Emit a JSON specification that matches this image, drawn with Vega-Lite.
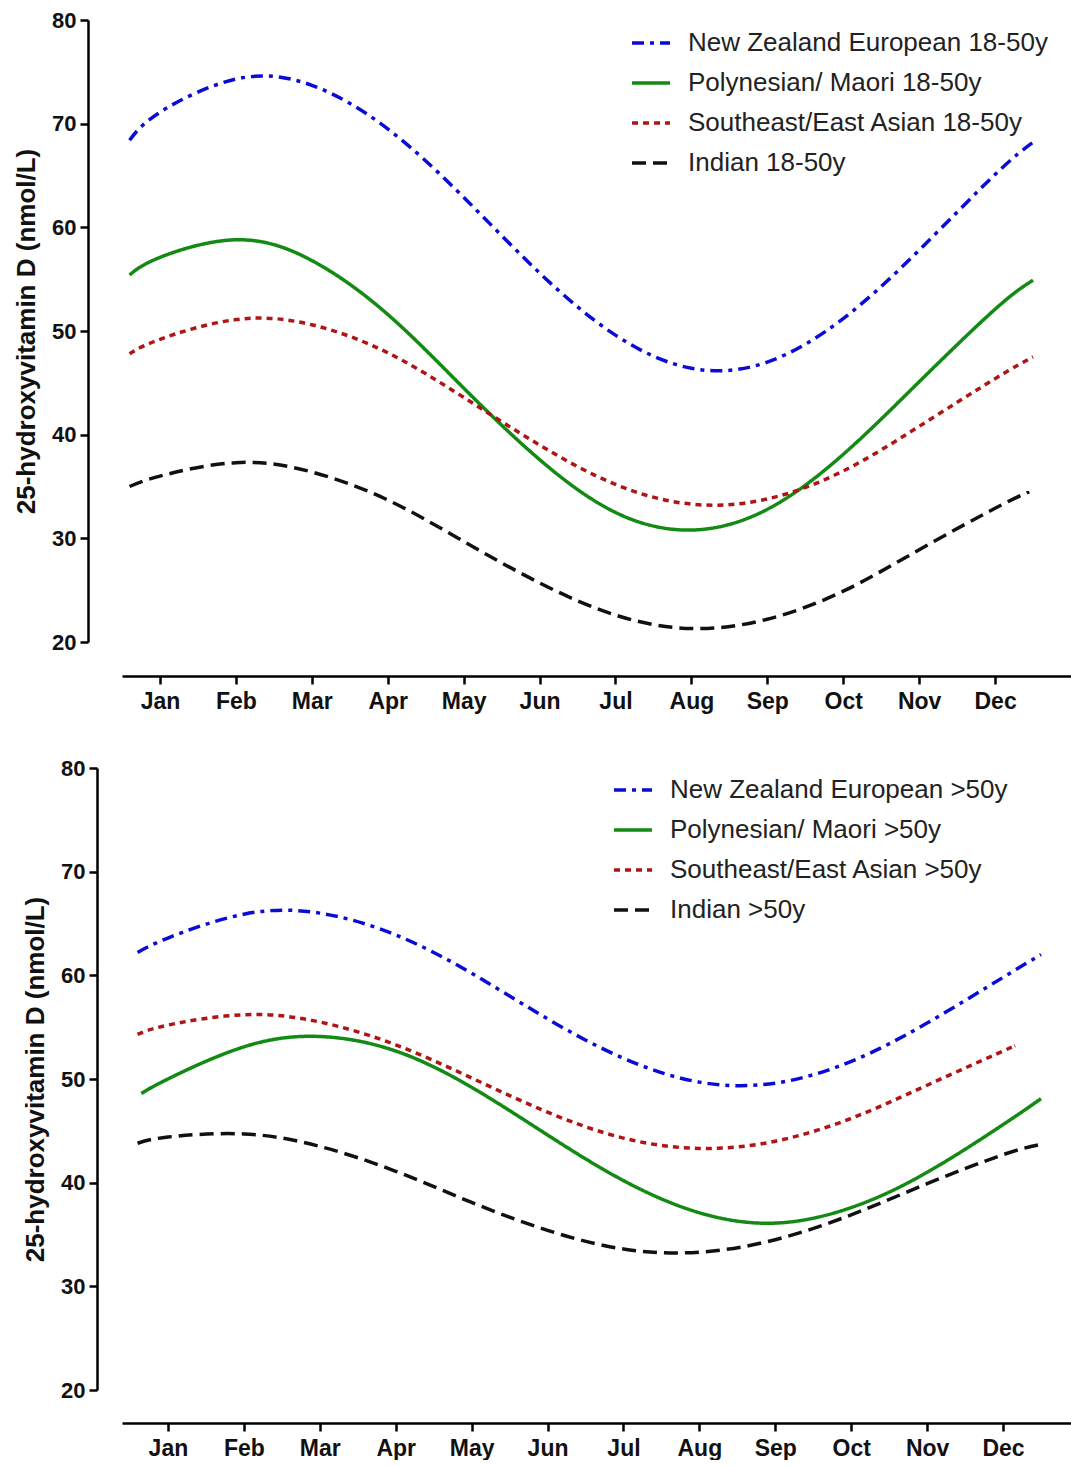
{
  "$schema": "https://vega.github.io/schema/vega-lite/v6.json",
  "padding": {"left": 13, "top": 9, "right": 0, "bottom": 0},
  "spacing": 44,
  "config": {
    "view": {"stroke": null},
    "axis": {"domainColor": "#000", "domainWidth": 2.5, "tickColor": "#000", "tickWidth": 2.5, "tickSize": 8, "grid": false,
      "labelFont": "Liberation Sans", "labelFontWeight": "bold", "labelFontSize": 22, "labelColor": "#111",
      "titleFont": "Liberation Sans", "titleFontWeight": "bold", "titleFontSize": 26, "titleColor": "#111"},
    "axisX": {"labelPadding": 6, "labelFontSize": 23},
    "axisY": {"labelPadding": 4, "titlePadding": 12},
    "legend": {"labelFont": "Liberation Sans", "labelFontSize": 26, "labelColor": "#222", "labelLimit": 600, "symbolType": "stroke", "symbolStrokeWidth": 3.5, "symbolSize": 1444, "labelOffset": 16, "rowPadding": 6}
  },
  "datasets": {
    "top": [
      {"g": "New Zealand European 18-50y", "m": 0.6, "v": 68.4}, {"g": "New Zealand European 18-50y", "m": 1, "v": 71.1}, {"g": "New Zealand European 18-50y", "m": 2, "v": 74.3}, {"g": "New Zealand European 18-50y", "m": 3, "v": 73.7}, {"g": "New Zealand European 18-50y", "m": 4, "v": 69.5}, {"g": "New Zealand European 18-50y", "m": 5, "v": 62.9}, {"g": "New Zealand European 18-50y", "m": 6, "v": 55.6}, {"g": "New Zealand European 18-50y", "m": 7, "v": 49.6}, {"g": "New Zealand European 18-50y", "m": 8, "v": 46.4}, {"g": "New Zealand European 18-50y", "m": 9, "v": 47.0}, {"g": "New Zealand European 18-50y", "m": 10, "v": 51.2}, {"g": "New Zealand European 18-50y", "m": 11, "v": 57.8}, {"g": "New Zealand European 18-50y", "m": 12, "v": 65.1}, {"g": "New Zealand European 18-50y", "m": 12.5, "v": 68.2},
      {"g": "Polynesian/ Maori 18-50y", "m": 0.6, "v": 55.4}, {"g": "Polynesian/ Maori 18-50y", "m": 1, "v": 57.1}, {"g": "Polynesian/ Maori 18-50y", "m": 2, "v": 58.8}, {"g": "Polynesian/ Maori 18-50y", "m": 3, "v": 56.8}, {"g": "Polynesian/ Maori 18-50y", "m": 4, "v": 51.6}, {"g": "Polynesian/ Maori 18-50y", "m": 5, "v": 44.5}, {"g": "Polynesian/ Maori 18-50y", "m": 6, "v": 37.6}, {"g": "Polynesian/ Maori 18-50y", "m": 7, "v": 32.5}, {"g": "Polynesian/ Maori 18-50y", "m": 8, "v": 30.8}, {"g": "Polynesian/ Maori 18-50y", "m": 9, "v": 32.8}, {"g": "Polynesian/ Maori 18-50y", "m": 10, "v": 38.1}, {"g": "Polynesian/ Maori 18-50y", "m": 11, "v": 45.1}, {"g": "Polynesian/ Maori 18-50y", "m": 12, "v": 52.1}, {"g": "Polynesian/ Maori 18-50y", "m": 12.5, "v": 54.9},
      {"g": "Southeast/East Asian 18-50y", "m": 0.6, "v": 47.8}, {"g": "Southeast/East Asian 18-50y", "m": 1, "v": 49.2}, {"g": "Southeast/East Asian 18-50y", "m": 2, "v": 51.1}, {"g": "Southeast/East Asian 18-50y", "m": 3, "v": 50.6}, {"g": "Southeast/East Asian 18-50y", "m": 4, "v": 47.9}, {"g": "Southeast/East Asian 18-50y", "m": 5, "v": 43.6}, {"g": "Southeast/East Asian 18-50y", "m": 6, "v": 39.0}, {"g": "Southeast/East Asian 18-50y", "m": 7, "v": 35.2}, {"g": "Southeast/East Asian 18-50y", "m": 8, "v": 33.3}, {"g": "Southeast/East Asian 18-50y", "m": 9, "v": 33.8}, {"g": "Southeast/East Asian 18-50y", "m": 10, "v": 36.5}, {"g": "Southeast/East Asian 18-50y", "m": 11, "v": 40.8}, {"g": "Southeast/East Asian 18-50y", "m": 12, "v": 45.4}, {"g": "Southeast/East Asian 18-50y", "m": 12.5, "v": 47.5},
      {"g": "Indian 18-50y", "m": 0.6, "v": 35.0}, {"g": "Indian 18-50y", "m": 1, "v": 36.0}, {"g": "Indian 18-50y", "m": 2, "v": 37.3}, {"g": "Indian 18-50y", "m": 3, "v": 36.4}, {"g": "Indian 18-50y", "m": 4, "v": 33.7}, {"g": "Indian 18-50y", "m": 5, "v": 29.7}, {"g": "Indian 18-50y", "m": 6, "v": 25.7}, {"g": "Indian 18-50y", "m": 7, "v": 22.6}, {"g": "Indian 18-50y", "m": 8, "v": 21.3}, {"g": "Indian 18-50y", "m": 9, "v": 22.2}, {"g": "Indian 18-50y", "m": 10, "v": 24.9}, {"g": "Indian 18-50y", "m": 11, "v": 28.9}, {"g": "Indian 18-50y", "m": 12, "v": 32.9}, {"g": "Indian 18-50y", "m": 12.45, "v": 34.5}
    ],
    "bottom": [
      {"g": "New Zealand European >50y", "m": 0.6, "v": 62.2}, {"g": "New Zealand European >50y", "m": 1, "v": 63.6}, {"g": "New Zealand European >50y", "m": 2, "v": 65.9}, {"g": "New Zealand European >50y", "m": 3, "v": 66.0}, {"g": "New Zealand European >50y", "m": 4, "v": 63.9}, {"g": "New Zealand European >50y", "m": 5, "v": 60.2}, {"g": "New Zealand European >50y", "m": 6, "v": 55.8}, {"g": "New Zealand European >50y", "m": 7, "v": 52.0}, {"g": "New Zealand European >50y", "m": 8, "v": 49.7}, {"g": "New Zealand European >50y", "m": 9, "v": 49.6}, {"g": "New Zealand European >50y", "m": 10, "v": 51.7}, {"g": "New Zealand European >50y", "m": 11, "v": 55.4}, {"g": "New Zealand European >50y", "m": 12, "v": 59.8}, {"g": "New Zealand European >50y", "m": 12.5, "v": 62.0},
      {"g": "Polynesian/ Maori >50y", "m": 0.65, "v": 48.6}, {"g": "Polynesian/ Maori >50y", "m": 1, "v": 50.0}, {"g": "Polynesian/ Maori >50y", "m": 2, "v": 53.1}, {"g": "Polynesian/ Maori >50y", "m": 3, "v": 54.1}, {"g": "Polynesian/ Maori >50y", "m": 4, "v": 52.7}, {"g": "Polynesian/ Maori >50y", "m": 5, "v": 49.2}, {"g": "Polynesian/ Maori >50y", "m": 6, "v": 44.6}, {"g": "Polynesian/ Maori >50y", "m": 7, "v": 40.2}, {"g": "Polynesian/ Maori >50y", "m": 8, "v": 37.1}, {"g": "Polynesian/ Maori >50y", "m": 9, "v": 36.1}, {"g": "Polynesian/ Maori >50y", "m": 10, "v": 37.6}, {"g": "Polynesian/ Maori >50y", "m": 11, "v": 41.0}, {"g": "Polynesian/ Maori >50y", "m": 12, "v": 45.6}, {"g": "Polynesian/ Maori >50y", "m": 12.5, "v": 48.1},
      {"g": "Southeast/East Asian >50y", "m": 0.6, "v": 54.3}, {"g": "Southeast/East Asian >50y", "m": 1, "v": 55.2}, {"g": "Southeast/East Asian >50y", "m": 2, "v": 56.2}, {"g": "Southeast/East Asian >50y", "m": 3, "v": 55.5}, {"g": "Southeast/East Asian >50y", "m": 4, "v": 53.3}, {"g": "Southeast/East Asian >50y", "m": 5, "v": 50.1}, {"g": "Southeast/East Asian >50y", "m": 6, "v": 46.8}, {"g": "Southeast/East Asian >50y", "m": 7, "v": 44.3}, {"g": "Southeast/East Asian >50y", "m": 8, "v": 43.3}, {"g": "Southeast/East Asian >50y", "m": 9, "v": 44.0}, {"g": "Southeast/East Asian >50y", "m": 10, "v": 46.2}, {"g": "Southeast/East Asian >50y", "m": 11, "v": 49.4}, {"g": "Southeast/East Asian >50y", "m": 12, "v": 52.7}, {"g": "Southeast/East Asian >50y", "m": 12.15, "v": 53.2},
      {"g": "Indian >50y", "m": 0.6, "v": 43.8}, {"g": "Indian >50y", "m": 1, "v": 44.4}, {"g": "Indian >50y", "m": 2, "v": 44.7}, {"g": "Indian >50y", "m": 3, "v": 43.5}, {"g": "Indian >50y", "m": 4, "v": 41.1}, {"g": "Indian >50y", "m": 5, "v": 38.1}, {"g": "Indian >50y", "m": 6, "v": 35.4}, {"g": "Indian >50y", "m": 7, "v": 33.6}, {"g": "Indian >50y", "m": 8, "v": 33.3}, {"g": "Indian >50y", "m": 9, "v": 34.5}, {"g": "Indian >50y", "m": 10, "v": 36.9}, {"g": "Indian >50y", "m": 11, "v": 39.9}, {"g": "Indian >50y", "m": 12, "v": 42.7}, {"g": "Indian >50y", "m": 12.5, "v": 43.7}
    ]
  },
  "vconcat": [
    {
      "width": 949, "height": 622,
      "data": {"name": "top"},
      "mark": {"type": "line", "interpolate": "natural", "strokeWidth": 3.5},
      "encoding": {
        "x": {"field": "m", "type": "quantitative", "scale": {"domain": [0.5, 13], "nice": false, "zero": false},
          "axis": {"title": null, "values": [1, 2, 3, 4, 5, 6, 7, 8, 9, 10, 11, 12], "labelExpr": "['Jan','Feb','Mar','Apr','May','Jun','Jul','Aug','Sep','Oct','Nov','Dec'][datum.value - 1]", "offset": 34}},
        "y": {"field": "v", "type": "quantitative", "scale": {"domain": [20, 80], "nice": false, "zero": false},
          "axis": {"title": "25-hydroxyvitamin D (nmol/L)", "values": [20, 30, 40, 50, 60, 70, 80], "offset": 34}},
        "color": {"field": "g", "type": "nominal",
          "scale": {"domain": ["New Zealand European 18-50y", "Polynesian/ Maori 18-50y", "Southeast/East Asian 18-50y", "Indian 18-50y"], "range": ["#0b0bd6", "#138a13", "#b01414", "#111111"]},
          "legend": {"orient": "none", "legendX": 508, "legendY": 2, "title": null}},
        "strokeDash": {"field": "g", "type": "nominal",
          "scale": {"domain": ["New Zealand European 18-50y", "Polynesian/ Maori 18-50y", "Southeast/East Asian 18-50y", "Indian 18-50y"], "range": [[12, 6, 4, 6], [1, 0], [6, 5], [14, 7]]},
          "legend": {"orient": "none", "legendX": 508, "legendY": 2, "title": null}}
      }
    },
    {
      "width": 949, "height": 622,
      "data": {"name": "bottom"},
      "mark": {"type": "line", "interpolate": "natural", "strokeWidth": 3.5},
      "encoding": {
        "x": {"field": "m", "type": "quantitative", "scale": {"domain": [0.395, 12.895], "nice": false, "zero": false},
          "axis": {"title": null, "values": [1, 2, 3, 4, 5, 6, 7, 8, 9, 10, 11, 12], "labelExpr": "['Jan','Feb','Mar','Apr','May','Jun','Jul','Aug','Sep','Oct','Nov','Dec'][datum.value - 1]", "offset": 33}},
        "y": {"field": "v", "type": "quantitative", "scale": {"domain": [20, 80], "nice": false, "zero": false},
          "axis": {"title": "25-hydroxyvitamin D (nmol/L)", "values": [20, 30, 40, 50, 60, 70, 80], "offset": 25}},
        "color": {"field": "g", "type": "nominal",
          "scale": {"domain": ["New Zealand European >50y", "Polynesian/ Maori >50y", "Southeast/East Asian >50y", "Indian >50y"], "range": ["#0b0bd6", "#138a13", "#b01414", "#111111"]},
          "legend": {"orient": "none", "legendX": 490, "legendY": 1, "title": null}},
        "strokeDash": {"field": "g", "type": "nominal",
          "scale": {"domain": ["New Zealand European >50y", "Polynesian/ Maori >50y", "Southeast/East Asian >50y", "Indian >50y"], "range": [[12, 6, 4, 6], [1, 0], [6, 5], [14, 7]]},
          "legend": {"orient": "none", "legendX": 490, "legendY": 1, "title": null}}
      }
    }
  ],
  "resolve": {"scale": {"color": "independent", "strokeDash": "independent"}}
}
